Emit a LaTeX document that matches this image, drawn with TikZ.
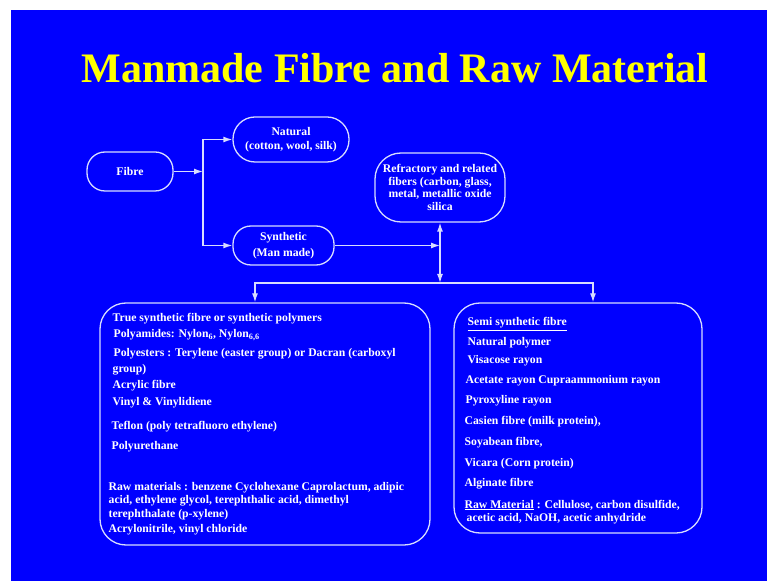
\documentclass[tikz,border=0pt]{standalone}
\usepackage{fontspec}
\setmainfont{Liberation Serif}
\usetikzlibrary{arrows.meta}
\definecolor{slideblue}{RGB}{0,0,255}
\definecolor{slideyellow}{RGB}{255,255,0}
\definecolor{edgeblue}{RGB}{215,220,255}
\tikzset{every picture/.style={font issue=\bfseries\fontsize{11.7}{13.5}},
         font issue/.style={execute at begin picture={#1\selectfont}},
         pill/.style={draw=edgeblue, text=white, align=center, rounded corners=18pt, inner sep=0pt},
         panel/.style={draw=edgeblue, rounded corners=26pt, inner sep=0pt},
         entry/.style={text=white, anchor=west, inner sep=0pt},
         tip/.style={Latex[length=9pt,width=6pt]},
         link/.style={draw=edgeblue, -{Latex[length=9pt,width=6pt]}}
}

\begin{document}
\begin{tikzpicture}[line width=1.3pt]
        \useasboundingbox (0,0) rectangle (767pt,581pt);
        \fill [white] (0,0) rectangle (767pt,581pt);
        \fill [slideblue] (11pt,0) rectangle (767pt,571pt);
        \node (title) [text=slideyellow, font=\bfseries\fontsize{42}{48}\selectfont] at (395pt,513pt) {Manmade Fibre and Raw Material};
        \node (fibre) [pill, minimum width=86pt, minimum height=39pt] at (130pt,409.5pt) {Fibre};
        \node (natural) [pill, minimum width=116pt, minimum height=45pt, rounded corners=22pt] at (291pt,441.5pt) {Natural\\(cotton, wool, silk)};
        \node (synthetic) [pill, minimum width=101pt, minimum height=39pt] at (283.5pt,335.5pt) {Synthetic\\[3pt](Man made)};
        \node (refractory) [pill, minimum width=130pt, minimum height=69pt, rounded corners=26pt, font=\bfseries\fontsize{11.7}{12.8}\selectfont] at (440pt,393.5pt) {Refractory and related\\fibers (carbon, glass,\\metal, metallic oxide\\silica};
        \node (truebox) [panel, minimum width=330pt, minimum height=242pt] at (265pt,157pt) {};
        \node (semibox) [panel, minimum width=248pt, minimum height=230pt] at (578pt,163pt) {};
        \coordinate (fork) at (203pt,409.5pt);
        \coordinate (merge) at (440pt,335.5pt);
        \coordinate (split) at (440pt,298pt);
        \draw [link] (fibre) -- (fork);
        \draw [link] (fork) |- (natural);
        \draw [link] (fork) |- (synthetic);
        \draw [link] (synthetic.east |- merge) -- (merge);
        \draw [link, {Latex[length=9pt,width=6pt]}-{Latex[length=9pt,width=6pt]}] (refractory) -- (split);
        \draw [link] (split) -| ([xshift=-10pt]truebox.north);
        \draw [link] (split) -| ([xshift=15pt]semibox.north);
        \node (t1) [entry] at (112pt,262pt) {True synthetic fibre or synthetic polymers};
        \node (t2) [entry] at (113pt,246pt) {Polyamides: Nylon\textsubscript{6}, Nylon\textsubscript{6,6}};
        \node (t3) [entry] at (113pt,227pt) {Polyesters : Terylene (easter group) or Dacran (carboxyl};
        \node (t4) [entry] at (112pt,211pt) {group)};
        \node (t5) [entry] at (112pt,195pt) {Acrylic fibre};
        \node (t6) [entry] at (112pt,178pt) {Vinyl \& Vinylidiene};
        \node (t7) [entry] at (111pt,154pt) {Teflon (poly tetrafluoro ethylene)};
        \node (t8) [entry] at (111pt,134pt) {Polyurethane};
        \node (t9) [entry] at (108pt,93pt) {Raw materials : benzene Cyclohexane Caprolactum, adipic};
        \node (t10) [entry] at (108pt,80pt) {acid, ethylene glycol, terephthalic acid, dimethyl};
        \node (t11) [entry] at (108pt,66pt) {terephthalate (p-xylene)};
        \node (t12) [entry] at (108pt,51pt) {Acrylonitrile, vinyl chloride};
        \node (s1) [entry] at (467pt,257pt) {\underline{Semi synthetic fibre}};
        \node (s2) [entry] at (467pt,238pt) {Natural polymer};
        \node (s3) [entry] at (467pt,220pt) {Visacose rayon};
        \node (s4) [entry] at (465pt,200pt) {Acetate rayon Cupraammonium rayon};
        \node (s5) [entry] at (465pt,180pt) {Pyroxyline rayon};
        \node (s6) [entry] at (464pt,159pt) {Casien fibre (milk protein),};
        \node (s7) [entry] at (464pt,138pt) {Soyabean fibre,};
        \node (s8) [entry] at (464pt,117pt) {Vicara (Corn protein)};
        \node (s9) [entry] at (464pt,97pt) {Alginate fibre};
        \node (s10) [entry] at (464pt,76pt) {\underline{Raw Material} : Cellulose, carbon disulfide,};
        \node (s11) [entry] at (466pt,62pt) {acetic acid, NaOH, acetic anhydride};
      \end{tikzpicture}
\end{document}
